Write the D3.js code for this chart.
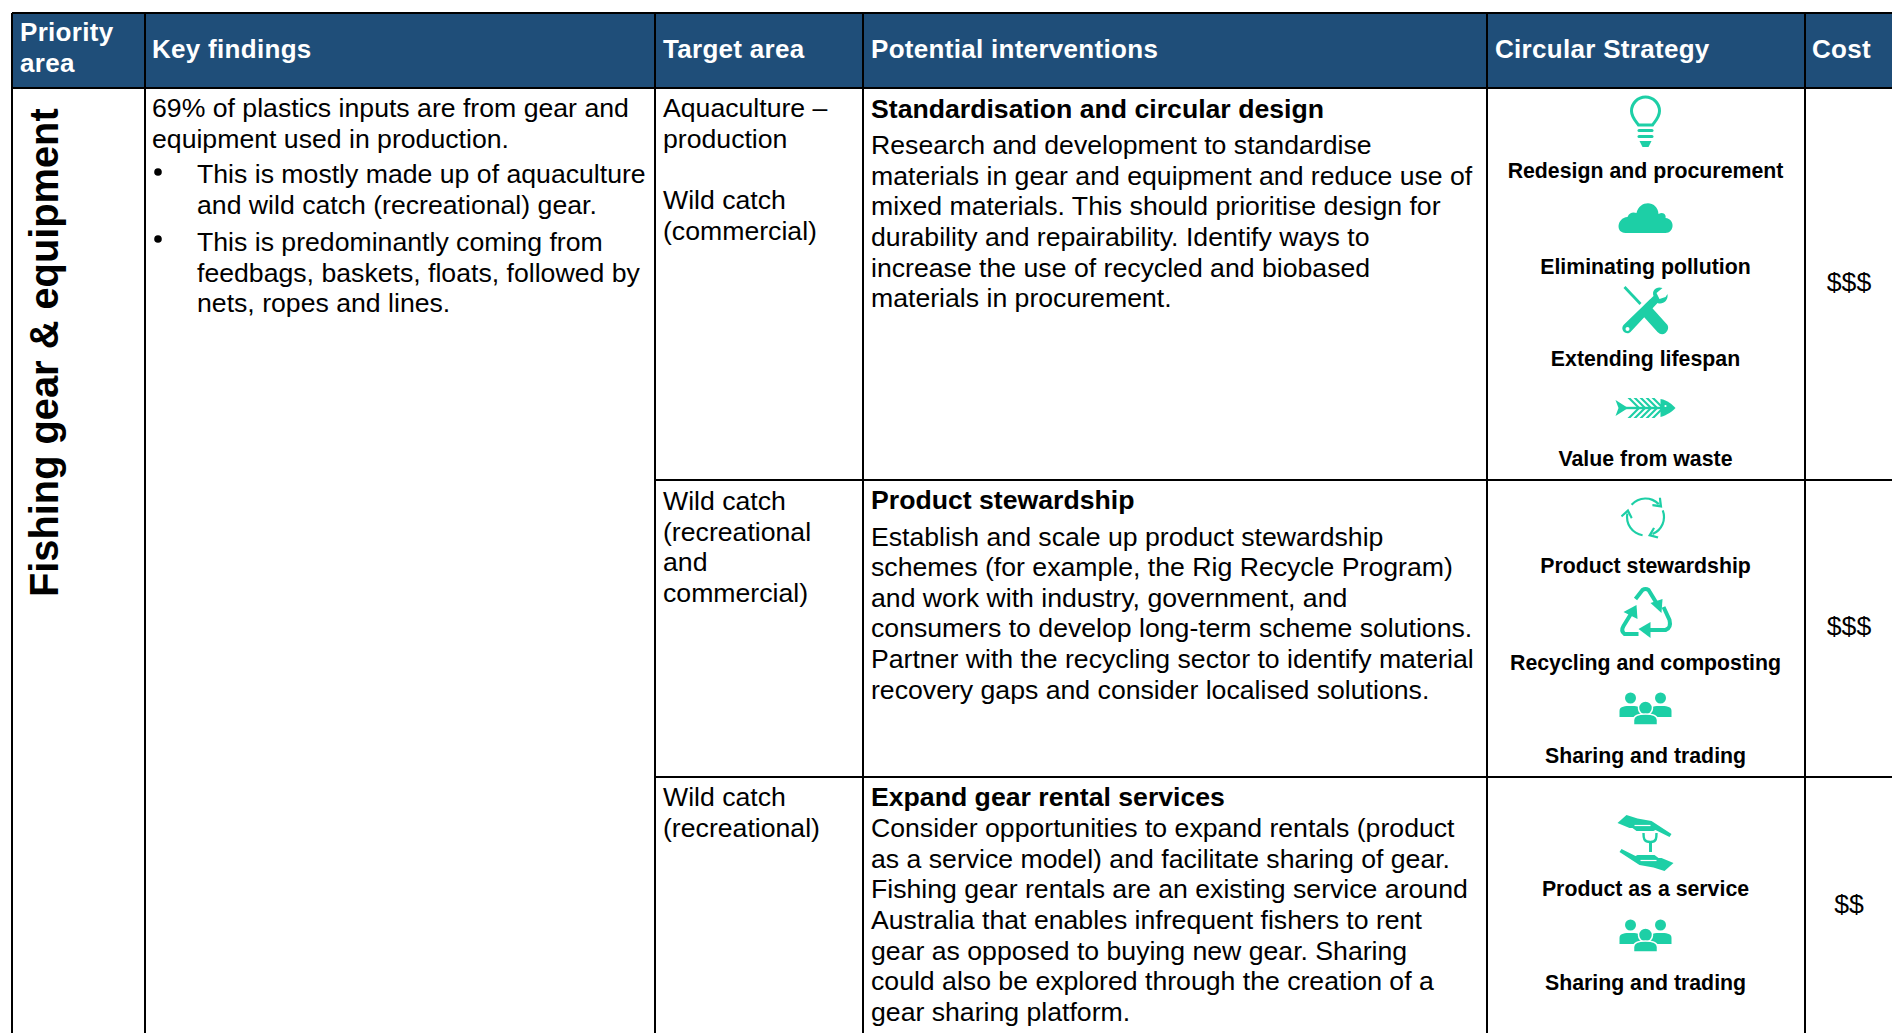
<!DOCTYPE html>
<html>
<head>
<meta charset="utf-8">
<style>
	html, body { margin: 0; padding: 0; background: #fff; overflow: hidden; }
	text { font-family: 'Liberation Sans', Arial, sans-serif; fill: #000; }
	.head { fill: #fff; font-weight: 700; font-size: 26px; letter-spacing: 0.3px; }
	.body { font-size: 26.65px; }
	.bold { font-size: 26.65px; font-weight: 700; }
	.strat { font-size: 21.3px; font-weight: 700; text-anchor: middle; }
	.cost { font-size: 26.65px; text-anchor: middle; }
	.priority { font-size: 39.8px; font-weight: 700; }
</style>
</head>
<body>
<svg id="chart"></svg>
<script src="https://cdnjs.cloudflare.com/ajax/libs/d3/7.8.5/d3.min.js"></script>
<script>
const columns = ['Priority area', 'Key findings', 'Target area', 'Potential interventions', 'Circular Strategy', 'Cost'];
const headerLines = [['Priority', 'area'], ['Key findings'], ['Target area'], ['Potential interventions'], ['Circular Strategy'], ['Cost']];
const priorityLabel = 'Fishing gear & equipment';
const findingLead = ['69% of plastics inputs are from gear and', 'equipment used in production.'];
const findingBullets = [
	['This is mostly made up of aquaculture', 'and wild catch (recreational) gear.'],
	['This is predominantly coming from', 'feedbags, baskets, floats, followed by', 'nets, ropes and lines.'],
];
const targetAreas = [
	[['Aquaculture –', 'production'], ['Wild catch', '(commercial)']],
	[['Wild catch', '(recreational', 'and', 'commercial)']],
	[['Wild catch', '(recreational)']],
];
const interventionTitles = ['Standardisation and circular design', 'Product stewardship', 'Expand gear rental services'];
const interventionLines = [
	['Research and development to standardise', 'materials in gear and equipment and reduce use of', 'mixed materials. This should prioritise design for', 'durability and repairability. Identify ways to', 'increase the use of recycled and biobased', 'materials in procurement.'],
	['Establish and scale up product stewardship', 'schemes (for example, the Rig Recycle Program)', 'and work with industry, government, and', 'consumers to develop long-term scheme solutions.', 'Partner with the recycling sector to identify material', 'recovery gaps and consider localised solutions.'],
	['Consider opportunities to expand rentals (product', 'as a service model) and facilitate sharing of gear.', 'Fishing gear rentals are an existing service around', 'Australia that enables infrequent fishers to rent', 'gear as opposed to buying new gear. Sharing', 'could also be explored through the creation of a', 'gear sharing platform.'],
];
const strategies = [
	[['bulb', 'Redesign and procurement'], ['cloud', 'Eliminating pollution'], ['tools', 'Extending lifespan'], ['fish', 'Value from waste']],
	[['cycle', 'Product stewardship'], ['recycle', 'Recycling and composting'], ['people', 'Sharing and trading']],
	[['hands', 'Product as a service'], ['people', 'Sharing and trading']],
];
const costs = ['$$$', '$$$', '$$'];

class TableChart {
	constructor(_config) {
		this.config = {
			parentElement: _config.parentElement,
			containerWidth: 1892,
			containerHeight: 1033,
			columnEdges: [12, 145, 655, 863, 1487, 1805, 1910],
			rowEdges: [88, 480, 777, 1045],
			headerTop: 13,
			lineHeight: 30.65,
			teal: '#1dcfa6',
			navy: '#1f4e79',
		};
		this.initVis();
	}

	initVis() {
		let vis = this;
		const c = vis.config;

		vis.svg = d3.select(c.parentElement)
			.attr('width', c.containerWidth)
			.attr('height', c.containerHeight)
			.style('display', 'block');

		// column name to left edge, row index to top edge
		vis.xScale = d3.scaleOrdinal().domain(columns).range(c.columnEdges);
		vis.yScale = d3.scaleOrdinal().domain([0, 1, 2]).range(c.rowEdges);

		vis.renderVis();
	}

	// stack of text lines from a first baseline
	addLines(lines, x, y0, cls) {
		let vis = this;
		vis.svg.append('g')
			.selectAll('text')
			.data(lines)
			.join('text')
			.attr('class', cls)
			.attr('x', x)
			.attr('y', (d, i) => y0 + i * vis.config.lineHeight)
			.text((d) => d);
	}

	renderVis() {
		let vis = this;
		const c = vis.config;
		const pad = 8;

		// header band
		vis.svg.append('rect')
			.attr('x', c.columnEdges[0])
			.attr('y', c.headerTop)
			.attr('width', c.containerWidth)
			.attr('height', c.rowEdges[0] - c.headerTop)
			.attr('fill', c.navy);

		headerLines.forEach((lines, i) => {
			const y0 = lines.length > 1 ? 41 : 58;
			vis.svg.append('g')
				.selectAll('text')
				.data(lines)
				.join('text')
				.attr('class', 'head')
				.attr('x', vis.xScale(columns[i]) + (i === 1 || i === 5 ? 7 : pad))
				.attr('y', (d, j) => y0 + j * 31)
				.text((d) => d);
		});

		// priority label, rotated
		vis.svg.append('text')
			.attr('class', 'priority')
			.attr('transform', 'translate(58,597) rotate(-90)')
			.text(priorityLabel);

		// key findings
		const kx = vis.xScale(columns[1]) + 7;
		vis.addLines(findingLead, kx, 117, 'body');
		const bulletY = [183, 251];
		const dotY = [172, 239];
		findingBullets.forEach((lines, i) => {
			vis.addLines(lines, kx + 45, bulletY[i], 'body');
			vis.svg.append('circle')
				.attr('cx', 158)
				.attr('cy', dotY[i])
				.attr('r', 3.8)
				.attr('fill', '#000');
		});

		// target areas
		const tx = vis.xScale(columns[2]) + pad;
		const targetY = [[117, 209], [510], [806]];
		targetAreas.forEach((groups, r) => {
			groups.forEach((lines, g) => vis.addLines(lines, tx, targetY[r][g], 'body'));
		});

		// interventions
		const ix = vis.xScale(columns[3]) + pad;
		const titleY = [118, 509, 806];
		const bodyY = [154, 545.5, 837];
		interventionTitles.forEach((t, r) => {
			vis.addLines([t], ix, titleY[r], 'bold');
			vis.addLines(interventionLines[r], ix, bodyY[r], 'body');
		});

		// circular strategy icons and labels
		const sx = (vis.xScale(columns[4]) + vis.xScale(columns[5])) / 2 - 0.5;
		const labelY = [[178, 274, 366, 466], [573, 670, 763], [896, 990]];
		const iconY = [[122, 218, 311, 408], [517, 613, 709], [843, 936]];
		strategies.forEach((row, r) => {
			row.forEach(([icon, label], i) => {
				vis.svg.append('text')
					.attr('class', 'strat')
					.attr('x', sx)
					.attr('y', labelY[r][i])
					.text(label);
				const g = vis.svg.append('g')
					.attr('transform', `translate(${sx},${iconY[r][i]})`)
					.attr('fill', c.teal)
					.attr('stroke', 'none');
				vis[icon](g);
			});
		});

		// cost
		const costY = [291, 635, 913];
		vis.svg.append('g')
			.selectAll('text')
			.data(costs)
			.join('text')
			.attr('class', 'cost')
			.attr('x', 1849)
			.attr('y', (d, i) => costY[i])
			.text((d) => d);

		// grid lines
		const line = (x1, y1, x2, y2) => vis.svg.append('line')
			.attr('x1', x1).attr('y1', y1).attr('x2', x2).attr('y2', y2)
			.attr('stroke', '#000').attr('stroke-width', 2);
		line(c.columnEdges[0], c.headerTop, c.containerWidth, c.headerTop);
		line(c.columnEdges[0], c.rowEdges[0], c.containerWidth, c.rowEdges[0]);
		line(c.columnEdges[2], c.rowEdges[1], c.containerWidth, c.rowEdges[1]);
		line(c.columnEdges[2], c.rowEdges[2], c.containerWidth, c.rowEdges[2]);
		c.columnEdges.slice(0, 6).forEach((x) => line(x, c.headerTop, x, c.containerHeight));
	}

	bulb(g) {
		g.append('path')
			.attr('d', 'M-7,3 C-10,-1 -14,-5 -14,-11 A14,14 0 1 1 14,-11 C14,-5 10,-1 7,3 L-7,3 Z')
			.attr('fill', 'none')
			.attr('stroke', this.config.teal)
			.attr('stroke-width', 3);
		g.append('rect').attr('x', -8).attr('y', 7).attr('width', 16).attr('height', 3).attr('rx', 1.5);
		g.append('rect').attr('x', -8).attr('y', 13).attr('width', 16).attr('height', 3).attr('rx', 1.5);
		g.append('path').attr('d', 'M-6,19 H6 L3,25 H-3 Z');
	}

	cloud(g) {
		g.append('path')
			.attr('d', 'M-20,15 C-30,15 -29,0 -18,-1 C-16,-6 -12,-6 -9,-5 C-6,-18 12,-18 13,-4 C18,-7 21,-3 20,0 C30,1 29,15 20,15 Z');
	}

	tools(g) {
		// screwdriver
		g.append('path').attr('d', 'M-22,-23 L-20,-25 L-4,-8 L-6,-6 Z');
		g.append('path').attr('d', 'M-1,-6 L5,-12 L4,-6 L22,14 Q24,18 20,22 Q16,25 12,21 L-6,1 Z');
		// wrench
		g.append('path').attr('d', 'M-22,14 L8,-15 C6,-21 11,-25 17,-23 L11,-18 L14,-12 L20,-14 L22,-17 C23,-10 17,-6 12,-8 L-15,21 C-19,25 -26,19 -22,14 Z');
		g.append('circle').attr('cx', -18).attr('cy', 18).attr('r', 2).attr('fill', '#fff');
	}

	fish(g) {
		// tail, spine, ribs, head
		g.append('path').attr('d', 'M-30,-8 L-19,-1 L-19,1 L-30,8 L-27,0 Z');
		g.append('rect').attr('x', -20).attr('y', -1.2).attr('width', 36).attr('height', 2.4);
		[-18, -12, -6, 0, 6].forEach((dx) => {
			g.append('path').attr('d', `M${dx + 9},-1 L${dx},-10 L${dx + 3},-10 L${dx + 12},-1 Z`);
			g.append('path').attr('d', `M${dx + 9},1 L${dx},10 L${dx + 3},10 L${dx + 12},1 Z`);
		});
		g.append('path').attr('d', 'M15,-9 C22,-8 27,-3 30,0 C27,3 22,7 15,9 Z');
		g.append('circle').attr('cx', 20).attr('cy', -2).attr('r', 1.1).attr('fill', '#fff');
	}

	cycle(g) {
		const r = 18.5;
		const arc = d3.arc().innerRadius(r - 1.1).outerRadius(r + 1.1);
		[[-0.85, 0.8], [1.2, 2.75], [3.3, 4.9]].forEach(([a0, a1]) => {
			g.append('path').attr('d', arc({ startAngle: a0, endAngle: a1 }));
			const ax = r * Math.sin(a1);
			const ay = -r * Math.cos(a1);
			const deg = (a1 * 180) / Math.PI;
			g.append('path')
				.attr('transform', `translate(${ax},${ay}) rotate(${deg})`)
				.attr('d', 'M-3,-6 L5,0 L-3,6 L-4.5,4.5 L1,0 L-4.5,-4.5 Z');
		});
	}

	recycle(g) {
		const t = this.config.teal;
		const part = (d) => g.append('path').attr('d', d).attr('fill', 'none').attr('stroke', t).attr('stroke-width', 4);
		part('M-10,-14 L-3,-23 Q0,-25 3,-23 L11,-10');
		g.append('path').attr('d', 'M5,-10 L17,-14 L16,0 Z');
		part('M-7,21 L-21,21 Q-25,18 -22,13 L-14,0');
		g.append('path').attr('d', 'M-22,-1 L-9,-8 L-8,6 Z');
		part('M18,-6 L24,7 Q26,15 20,17 L4,17');
		g.append('path').attr('d', 'M5,9 L-7,16 L5,25 Z');
	}

	people(g) {
		[-15, 15].forEach((dx) => {
			g.append('circle').attr('cx', dx).attr('cy', -11).attr('r', 5.5);
			g.append('path').attr('d', `M${dx - 11},8 L${dx - 11},2 C${dx - 11},-3 ${dx - 5},-3 ${dx},-3 C${dx + 5},-3 ${dx + 11},-3 ${dx + 11},2 L${dx + 11},8 Z`);
		});
		g.append('circle').attr('cx', 0).attr('cy', -1).attr('r', 7).attr('stroke', '#fff').attr('stroke-width', 1.5);
		g.append('path').attr('d', 'M-12,16 L-12,11 C-12,6 -5,5 0,5 C5,5 12,6 12,11 L12,16 Z').attr('stroke', '#fff').attr('stroke-width', 1.5);
	}

	hands(g) {
		const t = this.config.teal;
		// same hand drawn twice, turned half way round
		[0, 180].forEach((deg) => {
			const h = g.append('g').attr('transform', `rotate(${deg})`);
			h.append('path').attr('d', 'M-26,9 L-24,6 L-10,13 L-8,12 L9,12 L13,15 L16,15 L28,20 L19,28 L8,24.5 L-6,22 Z');
			h.append('path').attr('d', 'M-5,17.5 L11,17.5').attr('stroke', '#fff').attr('stroke-width', 1.2);
		});
		g.append('rect').attr('x', 3.5).attr('y', -2).attr('width', 3).attr('height', 11);
		g.append('path').attr('d', 'M5,-1 C-2,-1 -2,-5 -2,-10').attr('fill', 'none').attr('stroke', t).attr('stroke-width', 2.4);
		g.append('path').attr('d', 'M5,-1 C11,-1 11,-5 11,-10').attr('fill', 'none').attr('stroke', t).attr('stroke-width', 2.4);
	}
}

new TableChart({ parentElement: '#chart' });
</script>
</body>
</html>
